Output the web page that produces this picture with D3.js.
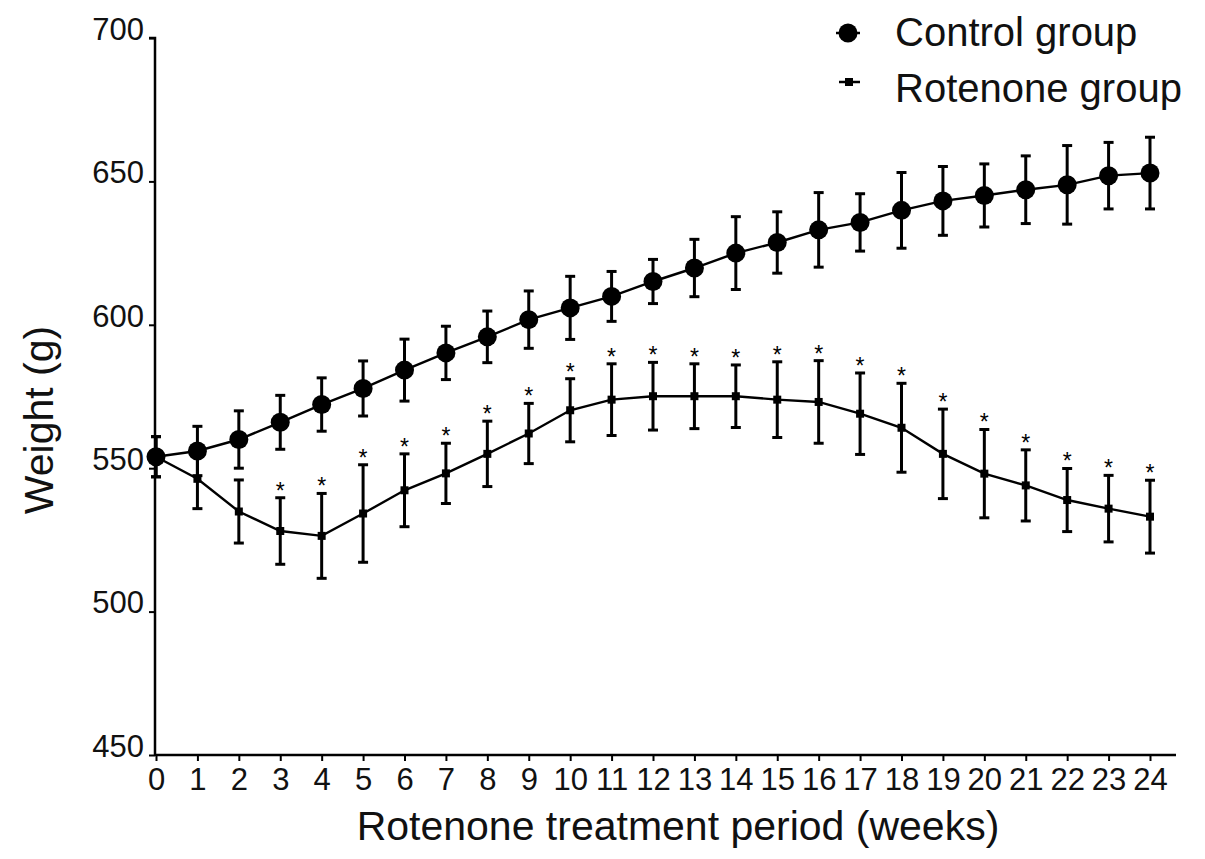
<!DOCTYPE html>
<html>
<head>
<meta charset="utf-8">
<script src="https://cdn.jsdelivr.net/npm/d3@7"></script>
<style>
  body { margin: 0; background: #fff; }
  svg { display: block; }
  svg text { font-family: "Liberation Sans", Arial, sans-serif; }
</style>
</head>
<body>
<div id="chart"></div>
<script>
const weeks = d3.range(0, 25);
const controlMean = [554, 556, 560, 566, 572.2, 577.8, 584.2, 590.2, 595.8, 601.8, 605.9, 609.9, 615.1,
                     619.8, 625, 628.7, 633.1, 635.7, 639.9, 643.2, 645.1, 647.1, 648.8, 652, 652.9];
const controlErr = [7, 8.6, 10, 9.4, 9.3, 9.6, 10.8, 9.3, 9, 10, 11, 8.7, 7.7,
                    10, 12.7, 10.7, 13, 10, 13.2, 12, 11, 11.8, 13.7, 11.6, 12.5];
const rotenoneMean = [554, 546.3, 534.9, 528.1, 526.4, 534.2, 542.3, 548.2, 555, 562.1, 570.2, 573.9, 575.1,
                      575.1, 575.1, 573.9, 573.1, 569, 564.1, 555, 548.1, 544, 538.9, 535.9, 533.1];
const rotenoneErr = [7, 10.4, 11, 11.6, 14.8, 17, 12.7, 10.5, 11.4, 10.5, 11, 12.5, 11.8,
                     11.3, 10.9, 13.2, 14.4, 14.2, 15.5, 15.6, 15.4, 12.4, 11, 11.6, 12.7];
// weeks with significant difference (*)
const starWeeks = d3.range(3, 25);
const yTicks = [450, 500, 550, 600, 650, 700];

const width = 1205, height = 859;
const margin = {top: 38, right: 29, bottom: 104, left: 155};
const font = '"Liberation Sans", Arial, sans-serif';

const svg = d3.select("#chart").append("svg")
    .attr("width", width)
    .attr("height", height);

const x = d3.scaleLinear()
    .domain([0, 24])
    .range([156, 1150]);

const y = d3.scaleLinear()
    .domain([450, 700])
    .range([755, 38]);

// axes
const yAxis = svg.append("g")
    .attr("transform", `translate(${margin.left},0)`)
    .attr("font-family", font)
    .call(d3.axisLeft(y).tickValues(yTicks).tickSize(6).tickPadding(5));
yAxis.select(".domain").attr("stroke-width", 2.5).attr("d", `M-6,${y(700)}H0V${y(450)}`);
yAxis.selectAll(".tick line").attr("stroke-width", 2);
yAxis.selectAll(".tick text")
    .attr("dy", "0.04em")
    .style("font-size", "31px")
    .attr("fill", "#111");

const xAxis = svg.append("g")
    .attr("transform", `translate(0,${y(450)})`)
    .attr("font-family", font)
    .call(d3.axisBottom(x).tickValues(weeks).tickFormat(d3.format("d")).tickSize(6).tickPadding(7));
xAxis.select(".domain").attr("stroke-width", 2.5).attr("d", `M${margin.left},0H1176`);
xAxis.selectAll(".tick line").attr("stroke-width", 2);
xAxis.selectAll(".tick text")
    .style("font-size", "31px")
    .attr("fill", "#111");

svg.append("text")
    .attr("x", 678)
    .attr("y", 840)
    .attr("text-anchor", "middle")
    .style("font-size", "41px")
    .attr("fill", "#111")
    .text("Rotenone treatment period (weeks)");

svg.append("text")
    .attr("transform", "translate(53,420) rotate(-90)")
    .attr("text-anchor", "middle")
    .style("font-size", "41px")
    .attr("fill", "#111")
    .text("Weight (g)");

function drawSeries(mean, err, marker) {
  const g = svg.append("g");
  const pts = weeks.map((w, i) => ({w: w, m: mean[i], e: err[i]}));

  g.append("path")
      .datum(pts)
      .attr("fill", "none")
      .attr("stroke", "#000")
      .attr("stroke-width", 2.4)
      .attr("d", d3.line().x(d => x(d.w)).y(d => y(d.m)));

  const bars = g.selectAll(".err")
      .data(pts)
      .enter().append("g")
      .attr("stroke", "#000")
      .attr("stroke-width", 3);
  bars.append("line")
      .attr("x1", d => x(d.w)).attr("x2", d => x(d.w))
      .attr("y1", d => y(d.m + d.e)).attr("y2", d => y(d.m - d.e));
  bars.append("line")
      .attr("x1", d => x(d.w) - 5).attr("x2", d => x(d.w) + 5)
      .attr("y1", d => y(d.m + d.e)).attr("y2", d => y(d.m + d.e));
  bars.append("line")
      .attr("x1", d => x(d.w) - 5).attr("x2", d => x(d.w) + 5)
      .attr("y1", d => y(d.m - d.e)).attr("y2", d => y(d.m - d.e));

  if (marker === "circle") {
    g.selectAll(".pt")
        .data(pts)
        .enter().append("circle")
        .attr("cx", d => x(d.w))
        .attr("cy", d => y(d.m))
        .attr("r", 9.5)
        .attr("fill", "#000");
  } else {
    g.selectAll(".pt")
        .data(pts)
        .enter().append("rect")
        .attr("x", d => x(d.w) - 4)
        .attr("y", d => y(d.m) - 4)
        .attr("width", 8)
        .attr("height", 8)
        .attr("fill", "#000");
  }
  return pts;
}

const rotPts = drawSeries(rotenoneMean, rotenoneErr, "rect");
drawSeries(controlMean, controlErr, "circle");

// significance stars above rotenone error bars
svg.selectAll(".star")
    .data(rotPts.filter(d => starWeeks.includes(d.w)))
    .enter().append("text")
    .attr("x", d => x(d.w))
    .attr("y", d => y(d.m + d.e) + 1)
    .attr("text-anchor", "middle")
    .style("font-size", "23px")
    .attr("fill", "#000")
    .text("*");

// legend
const legend = svg.append("g");
legend.append("line")
    .attr("x1", 836).attr("x2", 860).attr("y1", 33).attr("y2", 33)
    .attr("stroke", "#000").attr("stroke-width", 2.5);
legend.append("circle")
    .attr("cx", 848).attr("cy", 33).attr("r", 9.5).attr("fill", "#000");
legend.append("text")
    .attr("x", 895).attr("y", 46)
    .style("font-size", "40px").attr("fill", "#111")
    .text("Control group");

legend.append("line")
    .attr("x1", 839).attr("x2", 860).attr("y1", 82).attr("y2", 82)
    .attr("stroke", "#000").attr("stroke-width", 2.5);
legend.append("rect")
    .attr("x", 845).attr("y", 78).attr("width", 8).attr("height", 8).attr("fill", "#000");
legend.append("text")
    .attr("x", 895).attr("y", 102)
    .style("font-size", "40px").attr("fill", "#111")
    .text("Rotenone group");
</script>
</body>
</html>
